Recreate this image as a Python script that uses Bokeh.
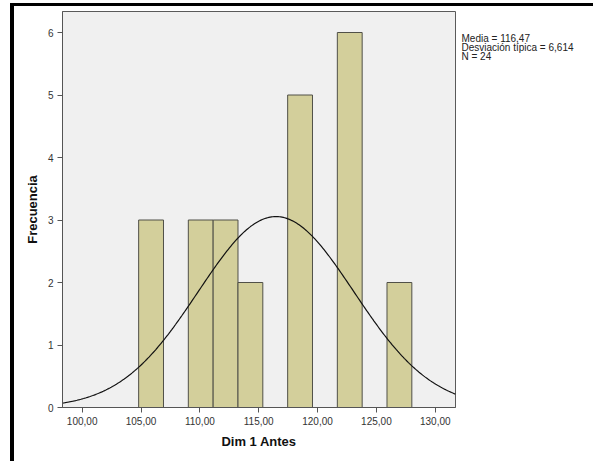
import numpy as np
from bokeh.plotting import figure
from bokeh.layouts import row
from bokeh.models import FixedTicker, ColumnDataSource
from bokeh.core.properties import value
from bokeh.embed import file_html
from bokeh.resources import INLINE

# ---- data ----
bin_edges = [104.80, 106.91, 109.02, 111.13, 113.24, 115.35, 117.46, 119.57,
             121.68, 123.79, 125.90, 128.01]
counts = [3, 0, 3, 3, 2, 0, 5, 0, 6, 0, 2]
mean_val = 116.47
sd_val = 6.614
n_val = 24
x_ticks = [100, 105, 110, 115, 120, 125, 130]
x_tick_labels = ["100,00", "105,00", "110,00", "115,00", "120,00", "125,00", "130,00"]
y_ticks = [0, 1, 2, 3, 4, 5, 6]
stats_lines = ["Media = 116,47", "Desviación típica = 6,614", "N = 24"]

FONT = "Liberation Sans"
X0, X1 = 98.33, 131.72
Y0, Y1 = 0, 6.336

p = figure(width=445, height=455, x_range=(X0, X1), y_range=(Y0, Y1),
           output_backend="svg", toolbar_location=None,
           min_border_left=48, min_border_right=4,
           min_border_top=5, min_border_bottom=54)

p.background_fill_color = "#F0F0F0"
p.border_fill_color = "white"
p.outline_line_color = "#5a5a5a"
p.outline_line_width = 1
p.xgrid.visible = False
p.ygrid.visible = False

# bars
lefts, rights, tops = [], [], []
for i, c in enumerate(counts):
    if c > 0:
        lefts.append(bin_edges[i])
        rights.append(bin_edges[i + 1])
        tops.append(c)
src = ColumnDataSource(dict(left=lefts, right=rights, top=tops, bottom=[0] * len(tops)))
p.quad(left="left", right="right", top="top", bottom="bottom", source=src,
       fill_color="#D3CF9B", line_color="#505048", line_width=1)

# fitted normal curve from stated mean / sd / N and the bin width
bw = (bin_edges[-1] - bin_edges[0]) / (len(bin_edges) - 1)
xs = np.linspace(X0, X1, 300)
ys = n_val * bw * np.exp(-0.5 * ((xs - mean_val) / sd_val) ** 2) / (sd_val * np.sqrt(2 * np.pi))
p.line(xs, ys, line_color="#111111", line_width=1.2)

# axes
for ax in (p.xaxis[0], p.yaxis[0]):
    ax.axis_line_color = "#555555"
    ax.major_tick_line_color = "#555555"
    ax.major_tick_out = 5
    ax.major_tick_in = 0
    ax.minor_tick_line_color = None
    ax.major_label_text_font = FONT
    ax.major_label_text_font_size = "10px"
    ax.major_label_text_color = "#333333"
    ax.axis_label_text_font = FONT
    ax.axis_label_text_font_size = "13px"
    ax.axis_label_text_font_style = "bold"
    ax.axis_label_text_color = "#111111"

p.xaxis.ticker = FixedTicker(ticks=x_ticks)
p.xaxis.major_label_overrides = {t: l for t, l in zip(x_ticks, x_tick_labels)}
p.xaxis.major_label_standoff = 4
p.xaxis.axis_label = "Dim 1 Antes"
p.xaxis.axis_label_standoff = 6

p.yaxis.ticker = FixedTicker(ticks=y_ticks)
p.yaxis.major_label_standoff = 4
p.yaxis.axis_label = "Frecuencia"
p.yaxis.axis_label_standoff = 5

# stats text panel to the right of the plot (pixel coordinates, y downwards)
p2 = figure(width=134, height=455, x_range=(0, 134), y_range=(455, 0),
            output_backend="svg", toolbar_location=None, min_border=0,
            x_axis_location=None, y_axis_location=None)
p2.xgrid.visible = False
p2.ygrid.visible = False
p2.outline_line_color = None
p2.background_fill_color = "white"
p2.border_fill_color = "white"
p2.text(x=[2, 2, 2], y=[31.3, 41.3, 51.3], text=stats_lines,
        text_font=value(FONT), text_font_size=value("10px"),
        text_color="#222222", text_baseline="alphabetic", text_align="left")

layout = row(p, p2, spacing=0)
layout.styles = {"margin-left": "10px", "margin-top": "3px",
                 "border-top": "3px solid black", "border-left": "4px solid black"}

open("out.html", "w").write(file_html(layout, INLINE))
